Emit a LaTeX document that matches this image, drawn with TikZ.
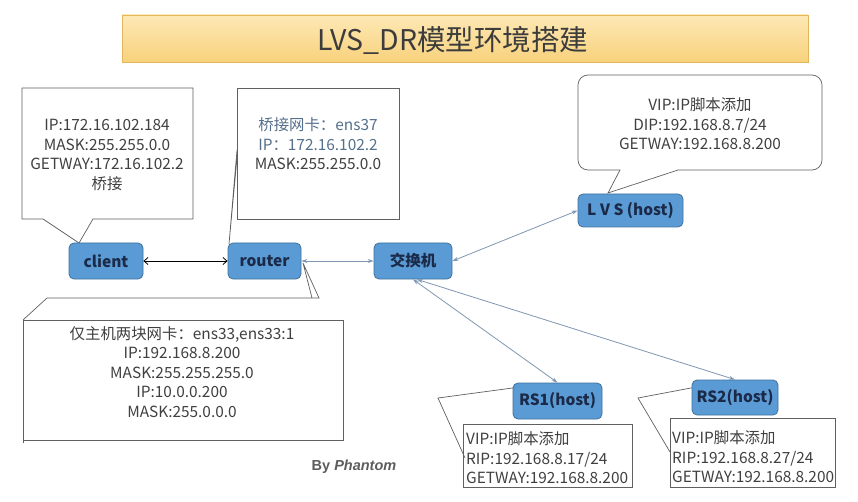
\documentclass[tikz,border=0pt]{standalone}
\usepackage{fontspec}
\setmainfont{Noto Sans CJK SC}
\newfontfamily\latinsf{Liberation Sans}
\usetikzlibrary{arrows.meta}
\definecolor{nodefill}{HTML}{5B9BD5}
\definecolor{nodeline}{HTML}{41719C}
\definecolor{nodetext}{HTML}{1B2A48}
\definecolor{boxline}{HTML}{606060}
\definecolor{boxtext}{HTML}{404040}
\definecolor{bluetext}{HTML}{55708C}
\definecolor{linkcol}{HTML}{7F97B2}
\definecolor{bannertop}{HTML}{FDE8B6}
\definecolor{bannerbot}{HTML}{F8D27C}
\definecolor{bannerline}{HTML}{E3B85C}
\definecolor{titletext}{HTML}{3C3C3C}
\begin{document}
\begin{tikzpicture}[x=1pt,y=-1pt,
  hostbox/.style={draw=nodeline, fill=nodefill, line width=0.8pt, rounded corners=5pt,
    text=nodetext, font=\fontsize{15.5}{18}\selectfont\bfseries, inner sep=0pt},
  callout/.style={draw=boxline, line width=0.7pt},
  info/.style={text=boxtext, font=\fontsize{15.4}{19.6}\selectfont, inner sep=0pt},
  blacklink/.style={draw=black, line width=0.8pt, {Straight Barb[length=4pt,width=7pt]}-{Straight Barb[length=4pt,width=7pt]}},
  bluelink/.style={draw=linkcol, line width=0.8pt, {Stealth[length=6pt,width=4pt]}-{Stealth[length=6pt,width=4pt]}}
]
\useasboundingbox (0,0) rectangle (858,502);
\fill[white] (0,0) rectangle (858,502);

% title banner
\shade[top color=bannertop, bottom color=bannerbot, draw=bannerline, line width=0.6pt]
  (122,15) rectangle (808,62);
\node[text=titletext, font=\fontsize{28.5}{30}\selectfont, inner sep=0pt] (title) at (453,40) {LVS\_DR模型环境搭建};

% client callout
\draw[callout, fill=white] (22,88) -- (193,88) -- (193,219) -- (93,219) -- (79,243) -- (43,219) -- (22,219) -- cycle;
\node[info, align=center] (clienttxt) at (107,155) {IP:172.16.102.184\\MASK:255.255.0.0\\GETWAY:172.16.102.2\\桥接};

% router callout
\draw[callout, fill=white] (237,88) rectangle (399,219);
\draw[callout] (237,158) -- (229,244) -- (237,150);
\node[info, align=center] (routertxt) at (318,144) {\textcolor{bluetext}{桥接网卡：ens37}\\\textcolor{bluetext}{IP：172.16.102.2}\\MASK:255.255.0.0};

% router lower callout
\draw[callout] (23,443) -- (23,320) -- (343,320) -- (343,440) -- (23,440);
\draw[callout] (23,320) -- (47,298) -- (319,298) -- (303,263) -- (312,298);
\node[info, align=center] (hostonlytxt) at (182,372) {仅主机两块网卡：ens33,ens33:1\\IP:192.168.8.200\\MASK:255.255.255.0\\IP:10.0.0.200\\MASK:255.0.0.0};

% LVS callout
\draw[callout, fill=white, rounded corners=10pt] (620,170) -- (578,170) -- (578,75) -- (822,75) -- (822,170) -- (678,170);
\draw[callout] (620,170) -- (608,193) -- (678,170);
\node[info, align=center] (lvstxt) at (700,124) {VIP:IP脚本添加\\DIP:192.168.8.7/24\\GETWAY:192.168.8.200};

% RS1 callout
\draw[callout] (463,424) rectangle (632,487);
\draw[callout] (465,458) -- (438,398) -- (520,387);
\node[info, align=left, anchor=west] (rs1txt) at (466,458) {VIP:IP脚本添加\\RIP:192.168.8.17/24\\GETWAY:192.168.8.200};

% RS2 callout
\draw[callout] (670,418) rectangle (835,487);
\draw[callout] (670,452) -- (638,398) -- (712,384);
\node[info, align=left, anchor=west] (rs2txt) at (672,457) {VIP:IP脚本添加\\RIP:192.168.8.27/24\\GETWAY:192.168.8.200};

% host nodes
\node[hostbox, minimum width=74pt, minimum height=36pt] (client) at (106,261) {client};
\node[hostbox, minimum width=73pt, minimum height=36pt] (router) at (264.5,261) {router};
\node[hostbox, minimum width=78pt, minimum height=36pt] (switch) at (413,261) {交换机};
\node[hostbox, minimum width=105pt, minimum height=33pt] (lvs) at (630.5,210.5) {L V S (host)};
\node[hostbox, minimum width=89pt, minimum height=36pt] (rs1) at (557.5,401) {RS1(host)};
\node[hostbox, minimum width=86pt, minimum height=35pt] (rs2) at (735,397.5) {RS2(host)};

% links
\draw[blacklink] (client.east) -- (router.west);
\draw[bluelink] (router.east) -- (switch.west);
\draw[bluelink] (switch.east) -- (lvs.west);
\draw[bluelink] (switch.south) -- (rs1.north);
\draw[bluelink] ([xshift=4pt]switch.south) -- (rs2.north);

% signature
\node[text=boxtext!85, font=\latinsf\fontsize{14.5}{16}\selectfont\bfseries, inner sep=0pt] (sig) at (354,467) {By \textit{Phantom}};
\end{tikzpicture}
\end{document}
